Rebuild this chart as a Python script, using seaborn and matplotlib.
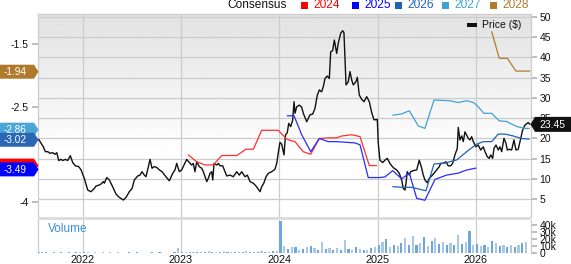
import numpy as np
import pandas as pd
import matplotlib
matplotlib.use("Agg")
import matplotlib.pyplot as plt
from matplotlib.patches import Rectangle, Polygon
import seaborn as sns

# ---------------- data ----------------
years = [2022, 2023, 2024, 2025, 2026]

price_year = [
    2021.552, 2021.576, 2021.599, 2021.620, 2021.644, 2021.667, 2021.695, 2021.718, 2021.736, 2021.756,
    2021.779, 2021.797, 2021.823, 2021.847, 2021.874, 2021.898, 2021.925, 2021.959, 2021.983, 2022.016,
    2022.051, 2022.084, 2022.118, 2022.135, 2022.169, 2022.186, 2022.210, 2022.220, 2022.244, 2022.271,
    2022.305, 2022.339, 2022.372, 2022.413, 2022.441, 2022.474, 2022.502, 2022.525, 2022.560, 2022.583,
    2022.603, 2022.627, 2022.644, 2022.685, 2022.705, 2022.728, 2022.753, 2022.779, 2022.807, 2022.847,
    2022.881, 2022.916, 2022.939, 2022.956, 2022.983, 2023.007, 2023.031, 2023.058, 2023.085, 2023.109,
    2023.125, 2023.142, 2023.160, 2023.186, 2023.211, 2023.227, 2023.262, 2023.278, 2023.295, 2023.312,
    2023.323, 2023.336, 2023.363, 2023.380, 2023.397, 2023.424, 2023.448, 2023.465, 2023.499, 2023.532,
    2023.567, 2023.593, 2023.618, 2023.651, 2023.675, 2023.702, 2023.736, 2023.770, 2023.804, 2023.821,
    2023.844, 2023.865, 2023.888, 2023.923, 2023.956, 2023.974, 2023.990, 2024.007, 2024.024, 2024.048,
    2024.063, 2024.081, 2024.096, 2024.116, 2024.136, 2024.150, 2024.160, 2024.177, 2024.204, 2024.228,
    2024.244, 2024.279, 2024.312, 2024.340, 2024.363, 2024.387, 2024.407, 2024.431, 2024.448, 2024.465,
    2024.488, 2024.509, 2024.523, 2024.543, 2024.560, 2024.584, 2024.600, 2024.625, 2024.645, 2024.658,
    2024.679, 2024.702, 2024.719, 2024.737, 2024.753, 2024.780, 2024.794, 2024.814, 2024.838, 2024.862,
    2024.889, 2024.916, 2024.940, 2024.963, 2024.984, 2024.997, 2025.007, 2025.024, 2025.052, 2025.075,
    2025.099, 2025.126, 2025.144, 2025.167, 2025.194, 2025.221, 2025.245, 2025.262, 2025.279, 2025.289,
    2025.302, 2025.323, 2025.337, 2025.363, 2025.398, 2025.424, 2025.449, 2025.465, 2025.482, 2025.506,
    2025.526, 2025.550, 2025.574, 2025.601, 2025.628, 2025.642, 2025.668, 2025.696, 2025.719, 2025.744,
    2025.764, 2025.787, 2025.811, 2025.821, 2025.838, 2025.856, 2025.872, 2025.889, 2025.906, 2025.923,
    2025.940, 2025.957, 2025.974, 2026.001, 2026.024, 2026.049, 2026.075, 2026.093, 2026.116, 2026.136,
    2026.151, 2026.171, 2026.184, 2026.205, 2026.228, 2026.245, 2026.263, 2026.286, 2026.306, 2026.320,
    2026.340, 2026.364, 2026.388, 2026.408, 2026.431, 2026.456, 2026.476, 2026.500, 2026.533, 2026.550,
]
price_value = [
    19.76, 18.8, 17.9, 16.7, 16.7, 16.3, 16.45, 16.05, 16.45, 14.5,
    14.8, 14.5, 14.8, 14.5, 15.7, 14.0, 13.2, 13.0, 12.2, 10.1,
    7.2, 6.8, 7.6, 8.2, 8.45, 8.7, 9.3, 8.9, 10.3, 9.7,
    8.0, 6.2, 5.4, 4.75, 5.4, 6.8, 7.6, 9.7, 10.7, 10.9,
    11.75, 10.9, 10.5, 14.8, 12.6, 13.0, 12.8, 12.2, 11.75, 10.5,
    9.5, 11.35, 12.2, 13.8, 11.75, 12.2, 13.4, 14.8, 14.0, 13.4,
    13.8, 11.75, 14.2, 13.0, 12.6, 11.75, 9.3, 10.1, 11.35, 11.75,
    9.7, 13.8, 13.4, 13.8, 13.2, 13.2, 11.75, 10.7, 10.9, 10.5,
    11.75, 10.9, 11.75, 10.5, 10.9, 9.3, 8.9, 8.0, 6.8, 8.0,
    9.0, 10.5, 11.35, 11.75, 12.35, 13.8, 16.5, 19.0, 18.6, 15.9,
    20.8, 21.4, 23.7, 22.9, 24.5, 29.05, 26.2, 27.8, 28.2, 27.7,
    26.2, 24.1, 25.8, 26.0, 27.4, 30.7, 31.95, 31.5, 32.8, 34.8,
    35.4, 34.8, 41.4, 41.7, 44.3, 41.0, 43.5, 46.0, 46.6, 46.1,
    33.2, 34.0, 36.5, 34.4, 33.2, 34.0, 35.1, 30.7, 29.65, 29.05,
    30.3, 29.05, 26.4, 24.6, 24.6, 24.7, 18.8, 14.6, 14.0, 14.6,
    15.05, 13.8, 13.2, 12.6, 12.2, 11.35, 9.7, 7.6, 7.2, 8.9,
    11.75, 10.9, 11.75, 12.0, 12.2, 14.6, 12.6, 10.9, 9.7, 9.0,
    10.1, 10.7, 11.35, 12.2, 13.0, 13.8, 13.8, 14.2, 13.2, 13.2,
    13.8, 15.9, 17.5, 22.7, 19.6, 20.6, 19.2, 21.6, 20.8, 20.0,
    19.6, 20.4, 19.2, 17.9, 18.35, 17.1, 17.9, 16.7, 15.45, 15.05,
    15.9, 15.05, 17.5, 18.35, 17.1, 17.9, 16.7, 20.0, 18.8, 17.1,
    17.3, 17.1, 19.6, 17.1, 17.3, 20.0, 22.05, 23.3, 23.9, 23.45,
]

eps2024_year = [2023.074, 2023.160, 2023.244, 2023.329, 2023.414, 2023.567, 2023.661, 2023.736,
                2023.821, 2023.990, 2024.068, 2024.109, 2024.160, 2024.244, 2024.320, 2024.407,
                2024.499, 2024.584, 2024.635, 2024.737, 2024.821, 2024.916, 2024.991]
eps2024_value = [-3.26, -3.37, -3.42, -3.42, -3.27, -3.27, -3.17, -3.17,
                 -2.87, -2.87, -3.00, -3.03, -3.05, -3.21, -3.25, -3.00,
                 -2.99, -2.99, -2.96, -2.94, -2.97, -3.43, -3.43]

eps2025_year = [2024.081, 2024.150, 2024.228, 2024.320, 2024.407, 2024.499, 2024.584, 2024.770,
                2024.821, 2024.905, 2025.017, 2025.075, 2025.154, 2025.245, 2025.323, 2025.398,
                2025.482, 2025.584, 2025.703, 2025.821, 2025.906, 2026.001]
eps2025_value = [-2.64, -2.64, -2.94, -3.21, -3.00, -3.05, -3.05, -3.07,
                 -3.10, -3.62, -3.62, -3.61, -3.51, -3.64, -3.55, -3.95,
                 -3.98, -3.65, -3.58, -3.55, -3.50, -3.47]

eps2026_year = [2025.154, 2025.262, 2025.347, 2025.492, 2025.574, 2025.686, 2025.805, 2025.906,
                2026.008, 2026.075, 2026.161, 2026.228, 2026.296, 2026.381, 2026.466, 2026.543]
eps2026_value = [-3.765, -3.775, -3.775, -3.83, -3.405, -3.39, -3.34, -3.21,
                 -3.09, -3.05, -3.05, -2.93, -2.93, -2.96, -3.00, -3.01]

eps2027_year = [2025.154, 2025.245, 2025.323, 2025.414, 2025.482, 2025.574, 2025.736, 2025.821,
                2025.906, 2025.974, 2026.008, 2026.082, 2026.161, 2026.238, 2026.313, 2026.415,
                2026.500, 2026.543]
eps2027_value = [-2.63, -2.61, -2.56, -2.80, -2.84, -2.39, -2.40, -2.43,
                 -2.40, -2.43, -2.47, -2.60, -2.60, -2.72, -2.73, -2.81,
                 -2.84, -2.84]

eps2028_year = [2026.161, 2026.238, 2026.320, 2026.408, 2026.550]
eps2028_value = [-1.305, -1.727, -1.727, -1.93, -1.93]

# volume (thousands of shares), one bar every two weeks from mid-2021
volume_start = 2021.55
volume_k = [
    1.0, 0.8, 1.2, 0.6, 0.9, 0.7, 1.0, 0.6, 0.8, 0.7, 0.9, 1.5,
    1.2, 0.8, 0.6, 0.9, 0.7, 1.0, 0.6, 0.8, 0.5, 0.9, 0.7, 0.6, 1.0, 0.6, 0.8, 0.5, 0.7, 0.6, 0.9, 0.5,
    0.8, 0.6, 0.7, 0.5, 0.9, 7.0,
    1.5, 1.0, 1.2, 0.8, 1.0, 1.5, 1.2, 3.0, 1.0, 1.2, 1.5, 3.5, 1.5, 1.0, 1.2, 1.0, 1.5, 3.0, 2.0, 2.0,
    1.5, 2.5, 2.0, 1.8, 2.2, 2.5,
    46, 10, 6, 9, 9, 5, 6, 8, 10, 7, 5, 16, 6, 7, 5, 7, 4, 19, 6, 5, 8, 6, 5, 5, 7, 9,
    12, 16, 20, 9, 12, 10, 14, 21, 11, 24, 12, 15, 23, 10, 18, 22, 13, 16, 12, 15, 11, 26, 13, 16, 32, 12,
    13, 10, 12, 9, 18, 14, 10, 11, 9, 12, 8, 11, 14, 16,
]

last_price = 23.45
series_labels = ["2024", "2025", "2026", "2027", "2028"]
series_colors = ["#ff0000", "#0000ff", "#1f62b8", "#40a2d6", "#b27b2e"]
current_eps = {"2028": -1.94, "2027": -2.86, "2026": -3.02, "2024": -3.43, "2025": -3.49}

# ---------------- style ----------------
sns.set_theme(style="white")
plt.rcParams["font.family"] = ["Liberation Sans", "DejaVu Sans"]

W, H = 571, 264
fig = plt.figure(figsize=(W / 100, H / 100), dpi=100)


def rect(x0, y0, x1, y1):
    return [x0 / W, 1 - y1 / H, (x1 - x0) / W, (y1 - y0) / H]


XL = (2021.545, 2026.561)
GRID = "#cccccc"
TICKC = "#b5b5b5"

# price axis (main, ticks on right)
ax1 = fig.add_axes(rect(38, 14, 531, 217))
grad = np.linspace(0.885, 1.0, 200)
grad = np.clip((grad - 0.885) / 0.115 * 1.45, 0, 1) * 0.115 + 0.885
ax1.imshow(grad[:, None], extent=[0, 1, 0, 1], transform=ax1.transAxes,
           aspect="auto", cmap="gray", vmin=0, vmax=1, zorder=0)
ax1.set_xlim(*XL)
ax1.set_ylim(0.545, 50.74)
ax1.set_yticks([5, 10, 15, 20, 25, 30, 35, 40, 45, 50])
ax1.set_xticks(years)
ax1.set_xticklabels([])
ax1.grid(True, color=GRID, lw=0.9)
ax1.set_axisbelow(True)
for s in ax1.spines.values():
    s.set_color(GRID)
    s.set_linewidth(0.9)
ax1.spines["bottom"].set_visible(False)

sns.lineplot(x=price_year, y=price_value, ax=ax1, color="#111111", lw=1.0,
             sort=False, estimator=None, legend=False, zorder=3)

# EPS axis (twin, ticks on left)
ax2 = ax1.twinx()
ax2.set_ylim(-4.246, -1.024)
for yr, vals, lab, col in zip(
        [eps2024_year, eps2025_year, eps2026_year, eps2027_year, eps2028_year],
        [eps2024_value, eps2025_value, eps2026_value, eps2027_value, eps2028_value],
        series_labels, series_colors):
    lc = "#ff3030" if lab == "2024" else ("#2a2aff" if lab == "2025" else col)
    sns.lineplot(x=yr, y=vals, ax=ax2, color=lc, lw=0.9, sort=False,
                 estimator=None, legend=False)
ax2.set_xlim(*XL)
ax2.set_ylim(-4.246, -1.024)
ax2.set_ylabel("")
ax1.set_ylabel("")

# move ticks after twinx (twinx resets the main axis to the left)
ax1.yaxis.tick_right()
ax1.tick_params(axis="y", which="both", left=False, labelleft=False, right=True, labelright=True,
                length=4, color=TICKC, pad=2, labelsize=7.5, labelcolor="#111111")
ax1.tick_params(axis="x", length=0)
ax2.yaxis.tick_left()
ax2.set_yticks([-1.5, -2.5, -4])
ax2.set_yticklabels(["-1.5", "-2.5", "-4"])
ax2.tick_params(axis="y", which="both", right=False, labelright=False, left=True, labelleft=True,
                length=4, color=TICKC, pad=2.5, labelsize=7.5, labelcolor="#111111")
for s in ax2.spines.values():
    s.set_visible(False)
ax2.grid(False)

# volume axis
ax3 = fig.add_axes(rect(38, 220, 531, 253))
vol_x = [volume_start + i / 26 for i in range(len(volume_k))]
vol_cols = ["#a9c8e8" if i % 2 else "#6ea7dc" for i in range(len(volume_k))]
ax3.bar(vol_x, volume_k, width=0.022, color=vol_cols, linewidth=0)
ax3.set_xlim(*XL)
ax3.set_ylim(0, 47.7)
ax3.set_xticks(years)
ax3.set_xticklabels([str(y) for y in years])
ax3.yaxis.tick_right()
ax3.set_yticks([0, 10, 20, 30, 40])
ax3.set_yticklabels(["0", "10k", "20k", "30k", "40k"])
ax3.tick_params(axis="y", length=4, color=TICKC, pad=2, labelsize=7.5, labelcolor="#111111")
ax3.tick_params(axis="x", length=0, pad=1.5, labelsize=7.8, labelcolor="#111111")
ax3.grid(True, axis="x", color=GRID, lw=0.9)
ax3.set_axisbelow(True)
ax3.set_facecolor("white")
for k, s in ax3.spines.items():
    s.set_color(GRID)
    s.set_linewidth(0.9)
ax3.spines["top"].set_visible(False)
ax3.spines["bottom"].set_visible(False)
ax3.text(0.02, 0.72, "Volume", transform=ax3.transAxes, color="#3b8fd4",
         fontsize=8.5, va="center", ha="left")

# overlay (legend, tags)
ov = fig.add_axes([0, 0, 1, 1], zorder=10)
ov.set_xlim(0, W)
ov.set_ylim(H, 0)
ov.axis("off")
ov.patch.set_alpha(0)

# separator band between panels
ov.add_patch(Rectangle((38, 217), 493, 3, fc="#dddddd", ec="none"))

# top legend
ov.text(227, 5.5, "Consensus", fontsize=8.6, color="#111111", va="center", ha="left")
leg_x = [301, 352, 395, 442, 490]
for lx, lab, col in zip(leg_x, series_labels, series_colors):
    ov.add_patch(Rectangle((lx, 1.8), 7, 7, fc=col, ec="none"))
    ov.text(lx + 12.5, 5.5, lab, fontsize=8.6, color=col, va="center", ha="left")

# price legend
ov.add_patch(Rectangle((467, 23), 10, 4, fc="#111111", ec="none"))
ov.text(482, 25.5, "Price ($)", fontsize=7.5, color="#111111", va="center", ha="left")


def eps_px(v):
    return H - ax2.transData.transform((XL[0], v))[1]


def price_px(v):
    return H - ax1.transData.transform((XL[0], v))[1]


def left_tag(val, col, txt=None):
    yc = eps_px(val)
    ov.add_patch(Polygon([(0, yc - 7), (34, yc - 7), (38.5, yc), (34, yc + 7), (0, yc + 7)],
                         closed=True, fc=col, ec="none"))
    if txt:
        ov.text(4, yc + 0.5, txt, fontsize=7.2, color="white", va="center", ha="left")


left_tag(current_eps["2028"], "#b07a2c", "-1.94")
left_tag(current_eps["2027"], "#4aa6d6", "-2.86")
left_tag(current_eps["2026"], "#2a66b4", "-3.02")
left_tag(current_eps["2024"], "#ff0000")
left_tag(current_eps["2025"], "#0000ff", "-3.49")

yc = price_px(last_price)
ov.add_patch(Polygon([(530.5, yc), (535, yc - 7.5), (571, yc - 7.5), (571, yc + 7.5), (535, yc + 7.5)],
                     closed=True, fc="#111111", ec="none"))
ov.text(539, yc + 0.5, "23.45", fontsize=7.5, color="white", va="center", ha="left")

fig.savefig("out.png", dpi=100)
